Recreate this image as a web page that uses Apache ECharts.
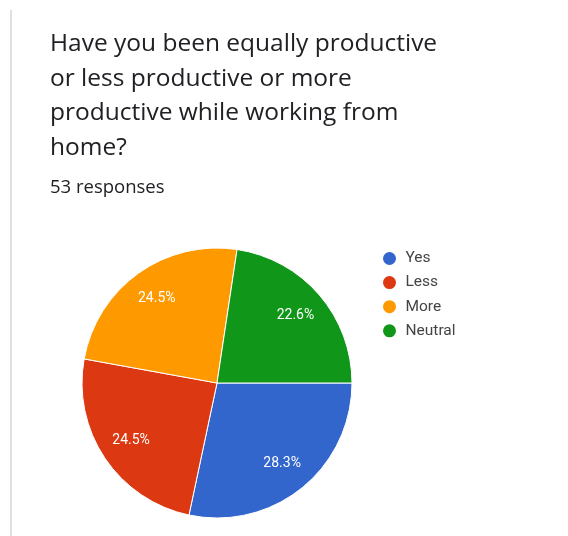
<!DOCTYPE html>
<html>
<head>
<meta charset="utf-8">
<title>Productivity while working from home</title>
<script src="https://cdn.jsdelivr.net/npm/echarts@6/dist/echarts.min.js"></script>
<style>
  html, body { margin: 0; padding: 0; background: #ffffff; }
  #chart { width: 568px; height: 536px; }
</style>
</head>
<body>
<div id="chart"></div>
<script>
// Survey question and response count
const questionLines = [
  'Have you been equally productive',
  'or less productive or more',
  'productive while working from',
  'home?'
];
const responseCount = 53;

// Answer categories and their share of responses (%)
const answers = ['Yes', 'Less', 'More', 'Neutral'];
const answerShares = [28.3, 24.5, 24.5, 22.6];
const answerColors = ['#3366cc', '#dc3912', '#ff9900', '#109618'];

const HEADING_FONT = '"Open Sans", Roboto, Arial, sans-serif';
const CHART_FONT = 'Roboto, "Noto Sans", Arial, sans-serif';

const sliceData = answers.map((name, i) => ({
  name: name,
  value: answerShares[i],
  itemStyle: { color: answerColors[i] }
}));

const chart = echarts.init(document.getElementById('chart'), null, { renderer: 'canvas' });

chart.setOption({
  backgroundColor: '#ffffff',
  animation: false,
  title: [
    {
      text: questionLines.join('\n'),
      left: 50,
      top: 27,
      padding: 0,
      textStyle: {
        fontFamily: HEADING_FONT,
        fontSize: 24.5,
        fontWeight: 'normal',
        color: '#202124',
        lineHeight: 34.5
      }
    },
    {
      text: responseCount + ' responses',
      left: 50,
      top: 178,
      padding: 0,
      textStyle: {
        fontFamily: HEADING_FONT,
        fontSize: 18.5,
        fontWeight: 'normal',
        color: '#202124'
      }
    }
  ],
  legend: {
    data: answers,
    orient: 'vertical',
    left: 381,
    top: 250,
    padding: 0,
    icon: 'circle',
    itemWidth: 22,
    itemHeight: 15,
    itemGap: 7.1,
    selectedMode: false,
    textStyle: {
      fontFamily: CHART_FONT,
      fontSize: 15.5,
      color: '#444444'
    }
  },
  graphic: [
    {
      type: 'line',
      shape: { x1: 11, y1: 10, x2: 11, y2: 536 },
      style: { stroke: '#e0e0e0', lineWidth: 2 },
      silent: true
    }
  ],
  series: [
    {
      // coloured slices
      type: 'pie',
      center: [217, 383],
      radius: 135,
      startAngle: 0,
      clockwise: true,
      silent: true,
      label: { show: false },
      labelLine: { show: false },
      emphasis: { disabled: true },
      itemStyle: { borderColor: '#ffffff', borderWidth: 1 },
      data: sliceData
    },
    {
      // percentage labels sitting in the outer band of each slice
      type: 'pie',
      center: [217, 383],
      radius: [66, 135],
      startAngle: 0,
      clockwise: true,
      silent: true,
      emphasis: { disabled: true },
      itemStyle: { color: 'rgba(0,0,0,0)', borderWidth: 0 },
      labelLine: { show: false },
      label: {
        show: true,
        position: 'inside',
        formatter: (p) => p.value.toFixed(1) + '%',
        fontFamily: CHART_FONT,
        fontSize: 14,
        color: '#ffffff'
      },
      data: answers.map((name, i) => ({ name: name, value: answerShares[i] }))
    }
  ]
});
</script>
</body>
</html>
